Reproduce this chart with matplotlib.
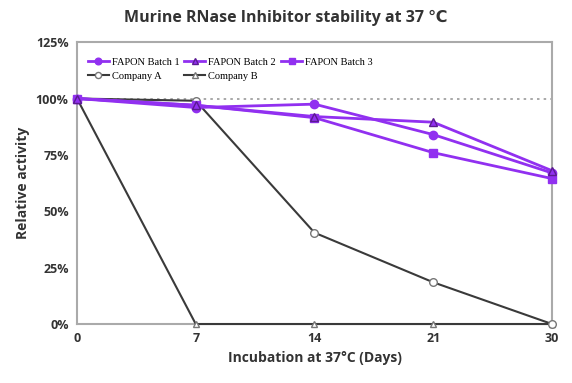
import matplotlib
matplotlib.use("Agg")
import matplotlib.pyplot as plt

days = ["0", "7", "14", "21", "30"]
batch1 = [100, 96, 97.5, 84, 67]
batch2 = [100, 97, 92, 89.5, 68]
batch3 = [100, 97, 91.5, 76, 64.5]
company_a = [100, 99, 40.5, 18.5, 0]
company_b = [100, 0, 0, 0, 0]
yticks = [0, 25, 50, 75, 100, 125]

purple = "#9130f0"
dark = "#3a3a3a"
plt.rcParams["font.family"] = ["Open Sans", "DejaVu Sans"]

fig = plt.figure(figsize=(5.72, 3.83), dpi=100)
ax = fig.add_axes([0.1346, 0.154, 0.8304, 0.736])
x = list(range(len(days)))

ax.axhline(100, color="#999999", linestyle=(0, (1.5, 2.5)), linewidth=1.2, zorder=1)
ax.plot(x, company_b, color=dark, lw=1.5, marker="^", ms=5, mfc="white", mec="#777777",
        label="Company B", zorder=3, clip_on=False)
ax.plot(x, company_a, color=dark, lw=1.5, marker="o", ms=5.5, mfc="white", mec="#777777",
        label="Company A", zorder=3, clip_on=False)
ax.plot(x, batch3, color=purple, lw=2, marker="s", ms=6, label="FAPON Batch 3", zorder=4,
        clip_on=False)
ax.plot(x, batch1, color=purple, lw=2, marker="o", ms=6, label="FAPON Batch 1", zorder=4,
        clip_on=False)
ax.plot(x, batch2, color=purple, lw=2, marker="^", ms=6, mec="#5a1a90",
        label="FAPON Batch 2", zorder=4, clip_on=False)

ax.set_xlim(0, len(days) - 1)
ax.set_ylim(0, 125)
ax.set_xticks(x)
ax.set_xticklabels(days)
ax.set_yticks(yticks)
ax.set_yticklabels([f"{v}%" for v in yticks])
ax.tick_params(length=0, labelsize=9, colors="#333333", pad=6)
for lab in ax.get_xticklabels() + ax.get_yticklabels():
    lab.set_fontweight("bold")
for s in ax.spines.values():
    s.set_color("#aaaaaa")
    s.set_linewidth(1.5)

ax.set_xlabel("Incubation at 37\u00b0C (Days)", fontsize=10,
              fontweight="bold", color="#333333", labelpad=4)
ax.set_ylabel("Relative activity", fontsize=10, fontweight="bold", color="#333333")
fig.suptitle("Murine RNase Inhibitor stability at 37 \u2103", x=0.5, y=0.975,
             fontsize=11.5, fontweight="bold", color="#333333")

h, l = ax.get_legend_handles_labels()
order = ["FAPON Batch 1", "Company A", "FAPON Batch 2", "Company B", "FAPON Batch 3"]
hd = dict(zip(l, h))
ax.legend([hd[k] for k in order], order, ncol=3, loc="upper left", frameon=False,
          prop={"family": "Liberation Serif", "size": 7.5}, handlelength=2,
          handletextpad=0.3, columnspacing=0.5, borderaxespad=0.4, labelspacing=0.45,
          markerscale=0.8, bbox_to_anchor=(0.005, 0.975))

fig.savefig("out.png", dpi=100)
